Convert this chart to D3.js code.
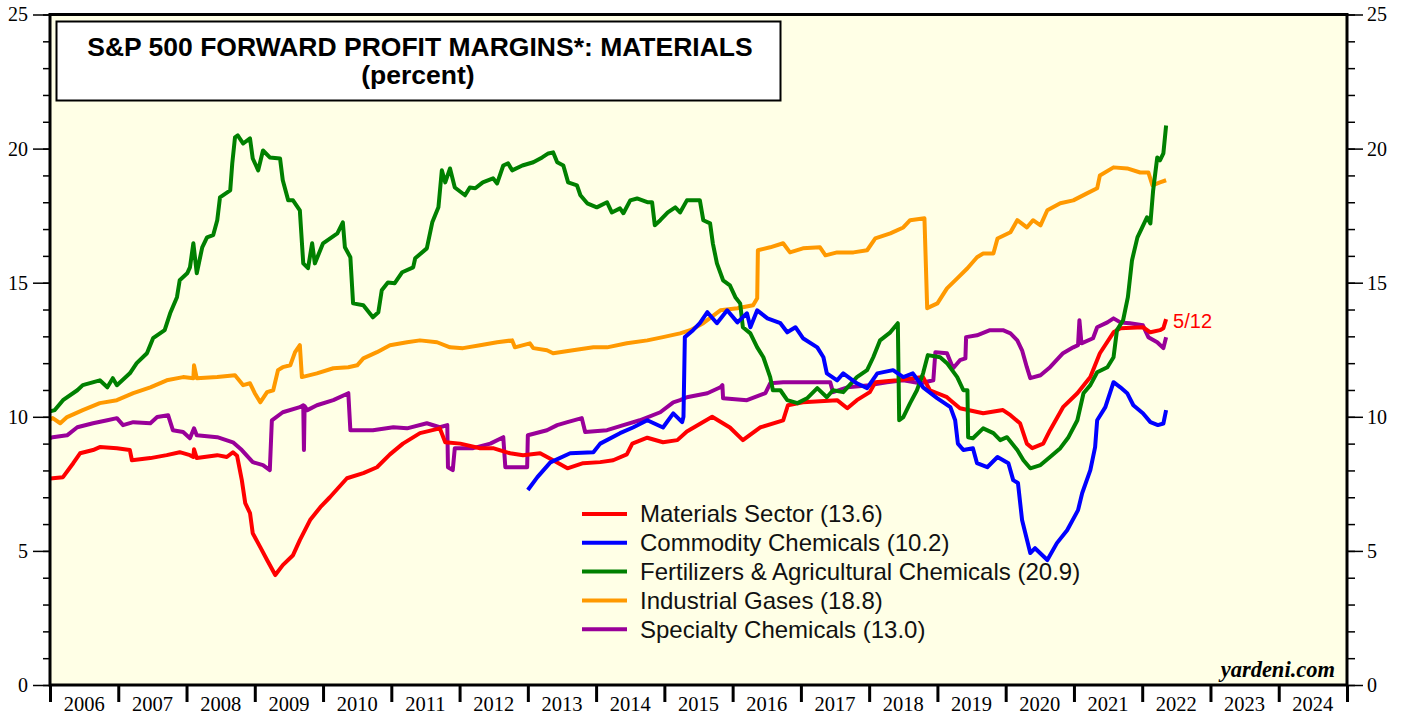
<!DOCTYPE html>
<html lang="en">
<head>
<meta charset="UTF-8">
<title>S&amp;P 500 Forward Profit Margins: Materials</title>
<script src="https://d3js.org/d3.v7.min.js"></script>
<style>
body{margin:0; background:#fff;}
svg{display:block;}
.tick text{font-family:"Liberation Serif", "Times New Roman", serif; font-size:20px; fill:#000;}
</style>
</head>
<body>
<div id="chart"></div>
<script>
// weekly forward margins, [decimal year, percent]
var materials = [[2006.00,7.7],[2006.04,7.71],[2006.19,7.75],[2006.34,8.27],[2006.44,8.64],[2006.63,8.76],[2006.73,8.87],[2006.98,8.83],[2007.17,8.76],[2007.20,8.38],[2007.47,8.46],[2007.71,8.57],[2007.90,8.68],[2008.05,8.57],[2008.10,8.5],[2008.11,8.79],[2008.15,8.46],[2008.45,8.57],[2008.59,8.5],[2008.68,8.68],[2008.74,8.55],[2008.81,7.64],[2008.86,6.78],[2008.93,6.41],[2008.97,5.66],[2009.08,5.14],[2009.18,4.66],[2009.30,4.1],[2009.41,4.47],[2009.56,4.84],[2009.66,5.4],[2009.81,6.15],[2009.96,6.63],[2010.10,7.0],[2010.35,7.71],[2010.59,7.9],[2010.79,8.12],[2010.98,8.6],[2011.17,9.0],[2011.42,9.39],[2011.71,9.57],[2011.79,9.05],[2012.01,9.0],[2012.30,8.83],[2012.49,8.83],[2012.74,8.64],[2012.93,8.57],[2013.18,8.64],[2013.37,8.38],[2013.58,8.08],[2013.81,8.27],[2014.06,8.31],[2014.25,8.38],[2014.45,8.6],[2014.53,9.0],[2014.75,9.22],[2014.98,9.05],[2015.19,9.13],[2015.33,9.45],[2015.70,10.0],[2015.96,9.6],[2016.15,9.13],[2016.40,9.6],[2016.74,9.87],[2016.81,10.43],[2017.03,10.54],[2017.53,10.62],[2017.68,10.32],[2017.82,10.62],[2018.01,10.92],[2018.09,11.29],[2018.41,11.36],[2018.79,11.48],[2018.89,10.99],[2019.14,10.73],[2019.19,10.62],[2019.33,10.32],[2019.67,10.13],[2019.96,10.25],[2020.07,10.06],[2020.21,9.76],[2020.31,9.0],[2020.39,8.83],[2020.55,9.0],[2020.65,9.5],[2020.84,10.36],[2021.05,10.88],[2021.24,11.48],[2021.38,12.37],[2021.58,13.15],[2021.68,13.3],[2022.01,13.34],[2022.12,13.15],[2022.26,13.23],[2022.31,13.3],[2022.35,13.64]];

var commodity = [[2013.00,7.27],[2013.14,7.75],[2013.33,8.3],[2013.62,8.64],[2013.96,8.68],[2014.06,9.0],[2014.35,9.39],[2014.54,9.6],[2014.75,9.87],[2014.98,9.6],[2015.13,10.13],[2015.26,9.8],[2015.28,10.0],[2015.30,12.97],[2015.42,13.23],[2015.52,13.49],[2015.63,13.9],[2015.77,13.49],[2015.92,13.97],[2016.07,13.52],[2016.21,13.86],[2016.26,13.34],[2016.36,13.97],[2016.51,13.67],[2016.70,13.49],[2016.80,13.15],[2016.92,13.34],[2017.03,12.93],[2017.24,12.59],[2017.33,12.22],[2017.38,11.62],[2017.53,11.36],[2017.62,11.62],[2017.82,11.25],[2017.97,11.07],[2018.12,11.62],[2018.35,11.74],[2018.50,11.48],[2018.64,11.62],[2018.79,11.1],[2019.00,10.69],[2019.19,10.36],[2019.26,9.87],[2019.30,9.0],[2019.38,8.76],[2019.52,8.83],[2019.58,8.27],[2019.73,8.12],[2019.88,8.5],[2020.04,8.27],[2020.11,7.64],[2020.18,7.53],[2020.24,6.15],[2020.36,4.92],[2020.43,5.1],[2020.61,4.66],[2020.75,5.29],[2020.90,5.77],[2021.06,6.52],[2021.12,7.15],[2021.24,8.01],[2021.31,8.87],[2021.34,9.87],[2021.46,10.36],[2021.58,11.29],[2021.68,11.1],[2021.78,10.88],[2021.87,10.43],[2022.01,10.13],[2022.12,9.8],[2022.23,9.69],[2022.31,9.75],[2022.35,10.25]];

var fertilizers = [[2006.00,10.2],[2006.07,10.25],[2006.19,10.62],[2006.40,10.99],[2006.48,11.18],[2006.73,11.36],[2006.84,11.1],[2006.92,11.44],[2006.98,11.18],[2007.17,11.62],[2007.27,12.0],[2007.42,12.37],[2007.51,12.93],[2007.68,13.23],[2007.76,13.86],[2007.86,14.46],[2007.90,15.09],[2008.01,15.35],[2008.05,15.57],[2008.10,16.47],[2008.15,15.35],[2008.23,16.32],[2008.30,16.69],[2008.39,16.77],[2008.45,17.33],[2008.49,18.18],[2008.64,18.44],[2008.67,19.45],[2008.71,20.42],[2008.75,20.49],[2008.83,20.19],[2008.93,20.38],[2008.97,19.63],[2009.05,19.19],[2009.12,19.93],[2009.22,19.67],[2009.37,19.63],[2009.41,18.82],[2009.49,18.07],[2009.56,18.07],[2009.66,17.7],[2009.71,15.72],[2009.78,15.54],[2009.84,16.47],[2009.88,15.72],[2010.00,16.47],[2010.21,16.84],[2010.29,17.25],[2010.32,16.32],[2010.40,15.95],[2010.44,14.23],[2010.59,14.16],[2010.73,13.71],[2010.81,13.9],[2010.86,14.72],[2010.95,15.01],[2011.05,14.98],[2011.16,15.39],[2011.32,15.57],[2011.35,15.91],[2011.52,16.28],[2011.60,17.25],[2011.69,17.81],[2011.74,19.19],[2011.79,18.74],[2011.86,19.26],[2011.93,18.55],[2012.08,18.26],[2012.15,18.55],[2012.23,18.52],[2012.34,18.74],[2012.49,18.89],[2012.55,18.7],[2012.64,19.37],[2012.71,19.45],[2012.77,19.19],[2012.92,19.37],[2013.08,19.49],[2013.21,19.67],[2013.30,19.82],[2013.37,19.86],[2013.43,19.49],[2013.52,19.37],[2013.59,18.74],[2013.72,18.63],[2013.77,18.26],[2013.87,17.96],[2014.01,17.81],[2014.16,18.0],[2014.23,17.62],[2014.35,17.77],[2014.40,17.59],[2014.50,18.07],[2014.60,18.14],[2014.75,18.0],[2014.82,18.0],[2014.86,17.14],[2014.94,17.33],[2015.05,17.62],[2015.16,17.81],[2015.23,17.62],[2015.33,18.07],[2015.52,18.07],[2015.57,17.33],[2015.67,17.21],[2015.71,16.47],[2015.77,15.72],[2015.86,15.09],[2015.96,14.9],[2016.04,14.46],[2016.11,14.23],[2016.15,13.34],[2016.26,13.11],[2016.36,12.59],[2016.45,12.22],[2016.55,11.48],[2016.59,10.99],[2016.70,10.99],[2016.80,10.62],[2016.95,10.51],[2017.09,10.69],[2017.24,11.07],[2017.38,10.73],[2017.47,10.99],[2017.62,10.92],[2017.82,11.48],[2017.97,11.74],[2018.06,12.22],[2018.16,12.85],[2018.31,13.15],[2018.42,13.49],[2018.44,9.87],[2018.50,9.99],[2018.60,10.51],[2018.70,10.99],[2018.79,11.62],[2018.86,12.3],[2019.04,12.22],[2019.14,12.0],[2019.29,11.48],[2019.38,10.99],[2019.44,10.99],[2019.45,9.24],[2019.52,9.2],[2019.67,9.57],[2019.82,9.39],[2019.92,9.13],[2020.02,9.24],[2020.17,8.76],[2020.26,8.38],[2020.36,8.08],[2020.51,8.2],[2020.65,8.5],[2020.80,8.83],[2020.92,9.24],[2021.05,9.87],[2021.14,10.88],[2021.24,11.18],[2021.34,11.66],[2021.49,11.85],[2021.58,12.22],[2021.63,13.23],[2021.72,13.6],[2021.79,14.46],[2021.85,15.83],[2021.93,16.69],[2022.00,17.06],[2022.07,17.44],[2022.12,17.21],[2022.16,18.44],[2022.22,19.67],[2022.26,19.56],[2022.31,19.82],[2022.35,20.86]];

var gases = [[2006.00,9.9],[2006.04,9.95],[2006.15,9.76],[2006.25,9.99],[2006.48,10.25],[2006.73,10.51],[2006.98,10.62],[2007.22,10.88],[2007.47,11.1],[2007.71,11.36],[2007.95,11.48],[2008.10,11.44],[2008.11,11.92],[2008.15,11.44],[2008.45,11.48],[2008.71,11.55],[2008.83,11.18],[2008.93,11.25],[2009.00,10.88],[2009.08,10.54],[2009.18,10.92],[2009.27,10.99],[2009.34,11.74],[2009.41,11.85],[2009.52,11.92],[2009.59,12.41],[2009.66,12.67],[2009.69,11.48],[2009.91,11.62],[2010.15,11.81],[2010.37,11.85],[2010.50,11.92],[2010.59,12.18],[2010.79,12.41],[2010.98,12.67],[2011.23,12.78],[2011.42,12.85],[2011.67,12.78],[2011.86,12.59],[2012.05,12.56],[2012.30,12.67],[2012.55,12.78],[2012.77,12.85],[2012.81,12.59],[2013.03,12.74],[2013.08,12.56],[2013.28,12.48],[2013.37,12.37],[2013.66,12.48],[2013.96,12.59],[2014.16,12.59],[2014.45,12.74],[2014.75,12.85],[2014.98,12.97],[2015.23,13.11],[2015.38,13.23],[2015.57,13.49],[2015.82,13.97],[2016.07,14.05],[2016.30,14.16],[2016.36,14.42],[2016.37,16.21],[2016.55,16.32],[2016.74,16.47],[2016.84,16.13],[2017.03,16.28],[2017.28,16.32],[2017.36,16.02],[2017.53,16.13],[2017.77,16.13],[2017.97,16.21],[2018.09,16.65],[2018.31,16.84],[2018.50,17.06],[2018.60,17.33],[2018.81,17.4],[2018.85,14.05],[2019.00,14.23],[2019.14,14.79],[2019.29,15.16],[2019.44,15.54],[2019.58,15.95],[2019.67,16.09],[2019.82,16.09],[2019.88,16.65],[2020.07,16.88],[2020.17,17.33],[2020.31,17.06],[2020.40,17.33],[2020.51,17.14],[2020.61,17.7],[2020.80,17.96],[2020.99,18.07],[2021.19,18.33],[2021.34,18.52],[2021.38,19.0],[2021.58,19.3],[2021.78,19.26],[2021.97,19.11],[2022.09,19.11],[2022.15,18.63],[2022.26,18.74],[2022.35,18.82]];

var specialty = [[2006.00,9.2],[2006.04,9.24],[2006.25,9.31],[2006.40,9.61],[2006.63,9.76],[2006.84,9.87],[2006.98,9.95],[2007.07,9.69],[2007.22,9.8],[2007.47,9.76],[2007.57,9.99],[2007.73,10.06],[2007.80,9.5],[2007.95,9.43],[2008.05,9.2],[2008.11,9.57],[2008.15,9.31],[2008.45,9.24],[2008.68,9.05],[2008.81,8.76],[2008.97,8.31],[2009.12,8.2],[2009.22,8.01],[2009.25,9.87],[2009.41,10.17],[2009.66,10.36],[2009.71,10.43],[2009.72,8.76],[2009.73,10.4],[2009.77,10.25],[2009.91,10.43],[2010.15,10.62],[2010.37,10.88],[2010.40,9.5],[2010.73,9.5],[2011.03,9.61],[2011.23,9.57],[2011.52,9.76],[2011.71,9.61],[2011.82,9.69],[2011.83,8.12],[2011.90,8.01],[2011.93,8.83],[2012.20,8.83],[2012.45,9.0],[2012.64,9.24],[2012.67,8.12],[2012.99,8.12],[2013.00,9.31],[2013.28,9.5],[2013.43,9.69],[2013.58,9.8],[2013.79,9.95],[2013.84,9.43],[2014.16,9.5],[2014.40,9.69],[2014.64,9.87],[2014.94,10.17],[2015.13,10.54],[2015.23,10.62],[2015.33,10.73],[2015.63,10.88],[2015.82,11.1],[2015.85,11.18],[2015.86,10.69],[2016.21,10.62],[2016.48,10.88],[2016.55,11.25],[2016.74,11.29],[2017.14,11.29],[2017.43,11.29],[2017.47,10.92],[2017.68,11.1],[2018.01,11.18],[2018.26,11.29],[2018.50,11.36],[2018.75,11.25],[2018.94,11.36],[2018.97,12.41],[2019.14,12.37],[2019.23,11.81],[2019.33,12.11],[2019.41,12.18],[2019.42,12.97],[2019.58,13.04],[2019.77,13.23],[2019.96,13.23],[2020.07,13.11],[2020.17,12.85],[2020.24,12.48],[2020.31,11.85],[2020.36,11.44],[2020.51,11.55],[2020.65,11.85],[2020.84,12.37],[2020.99,12.59],[2021.06,12.67],[2021.08,13.6],[2021.11,12.74],[2021.28,12.93],[2021.34,13.34],[2021.49,13.52],[2021.58,13.67],[2021.68,13.52],[2021.82,13.49],[2022.01,13.41],[2022.09,12.97],[2022.22,12.78],[2022.31,12.56],[2022.35,12.97]];

var seriesNames = ["Materials Sector (13.6)", "Commodity Chemicals (10.2)", "Fertilizers & Agricultural Chemicals (20.9)", "Industrial Gases (18.8)", "Specialty Chemicals (13.0)"];
var seriesColors = ["#ff0000", "#0000ff", "#008000", "#ff9900", "#990099"];
var years = d3.range(2006, 2025);
var yMajor = [0, 5, 10, 15, 20, 25];
var yMinor = d3.range(0, 26);

var W = 1405, H = 717;
var pLeft = 50, pRight = 1347, pTop = 14.5, pBottom = 685;

var svg = d3.select("#chart").append("svg")
	.attr("width", W)
	.attr("height", H);

var x = d3.scaleLinear().domain([2006, 2025]).range([pLeft, pRight]);
var y = d3.scaleLinear().domain([0, 25]).range([pBottom, pTop]);

// plot background
svg.append("rect")
	.attr("x", pLeft).attr("y", pTop)
	.attr("width", pRight - pLeft).attr("height", pBottom - pTop)
	.attr("fill", "#ffffe6");

// y axes: minor then major, both sides
function yAxis(axis, vals, size, labels){
	var g = svg.append("g")
		.call(axis(y).tickValues(vals).tickSize(size).tickFormat(labels ? d3.format("d") : ""));
	g.select(".domain").remove();
	g.selectAll(".tick line").attr("stroke", "#000").attr("stroke-width", 1.5);
	return g;
}
yAxis(d3.axisLeft, yMinor, 7, false).attr("transform", "translate(" + pLeft + ",0)");
yAxis(d3.axisLeft, yMajor, 17, true).attr("transform", "translate(" + pLeft + ",0)")
	.selectAll(".tick text").attr("x", -22);
yAxis(d3.axisRight, yMinor, 8, false).attr("transform", "translate(" + pRight + ",0)");
yAxis(d3.axisRight, yMajor, 16, true).attr("transform", "translate(" + pRight + ",0)")
	.selectAll(".tick text").attr("x", 20);

// bottom axis: year boundaries, labels in between
var xg = svg.append("g")
	.attr("transform", "translate(0," + pBottom + ")")
	.call(d3.axisBottom(x).tickValues(years.concat([2025])).tickSize(17).tickFormat(""));
xg.select(".domain").remove();
xg.selectAll(".tick line").attr("stroke", "#000").attr("stroke-width", 3);

svg.append("g").selectAll("text")
	.data(years)
	.enter()
	.append("text")
	.attr("x", function(d){ return x(d + 0.5); })
	.attr("y", 711)
	.attr("text-anchor", "middle")
	.attr("font-family", "Liberation Serif, Times New Roman, serif")
	.attr("font-size", "20.5px")
	.text(function(d){ return d; });

// series
var line = d3.line()
	.x(function(d){ return x(d[0]); })
	.y(function(d){ return y(d[1]); });

var allSeries = [gases, specialty, materials, fertilizers, commodity];
var allColors = [seriesColors[3], seriesColors[4], seriesColors[0], seriesColors[2], seriesColors[1]];

svg.append("g").selectAll("path")
	.data(allSeries)
	.enter()
	.append("path")
	.attr("d", line)
	.attr("fill", "none")
	.attr("stroke", function(d, i){ return allColors[i]; })
	.attr("stroke-width", 4)
	.attr("stroke-linejoin", "round");

// plot border
svg.append("rect")
	.attr("x", pLeft).attr("y", pTop)
	.attr("width", pRight - pLeft).attr("height", pBottom - pTop)
	.attr("fill", "none")
	.attr("stroke", "#000")
	.attr("stroke-width", 3);

// title box
svg.append("rect")
	.attr("x", 56.5).attr("y", 21.5)
	.attr("width", 724).attr("height", 79)
	.attr("fill", "#fff")
	.attr("stroke", "#000")
	.attr("stroke-width", 2);

svg.append("text")
	.attr("x", 420).attr("y", 56)
	.attr("text-anchor", "middle")
	.attr("font-family", "Liberation Sans, Arial, sans-serif")
	.attr("font-weight", "bold")
	.attr("font-size", "26.5px")
	.text("S&P 500 FORWARD PROFIT MARGINS*: MATERIALS");
svg.append("text")
	.attr("x", 418).attr("y", 84)
	.attr("text-anchor", "middle")
	.attr("font-family", "Liberation Sans, Arial, sans-serif")
	.attr("font-weight", "bold")
	.attr("font-size", "26.5px")
	.text("(percent)");

// legend
var leg = svg.append("g").selectAll("g")
	.data(seriesNames)
	.enter()
	.append("g")
	.attr("transform", function(d, i){ return "translate(582," + (514 + i * 28.8) + ")"; });
leg.append("line")
	.attr("x1", 0).attr("x2", 45)
	.attr("stroke", function(d, i){ return seriesColors[i]; })
	.attr("stroke-width", 4);
leg.append("text")
	.attr("x", 58).attr("dy", "0.35em")
	.attr("font-family", "Liberation Sans, Arial, sans-serif")
	.attr("font-size", "24px")
	.attr("fill", "#111")
	.text(function(d){ return d; });

// last date note
svg.append("text")
	.attr("x", x(materials[materials.length - 1][0]) + 7)
	.attr("y", y(13.6) + 8)
	.attr("font-family", "Liberation Sans, Arial, sans-serif")
	.attr("font-size", "20px")
	.attr("fill", "#ff0000")
	.text("5/12");

svg.append("text")
	.attr("x", 1335).attr("y", 677)
	.attr("text-anchor", "end")
	.attr("font-family", "Liberation Serif, Times New Roman, serif")
	.attr("font-weight", "bold")
	.attr("font-style", "italic")
	.attr("font-size", "22.5px")
	.text("yardeni.com");
</script>
</body>
</html>
